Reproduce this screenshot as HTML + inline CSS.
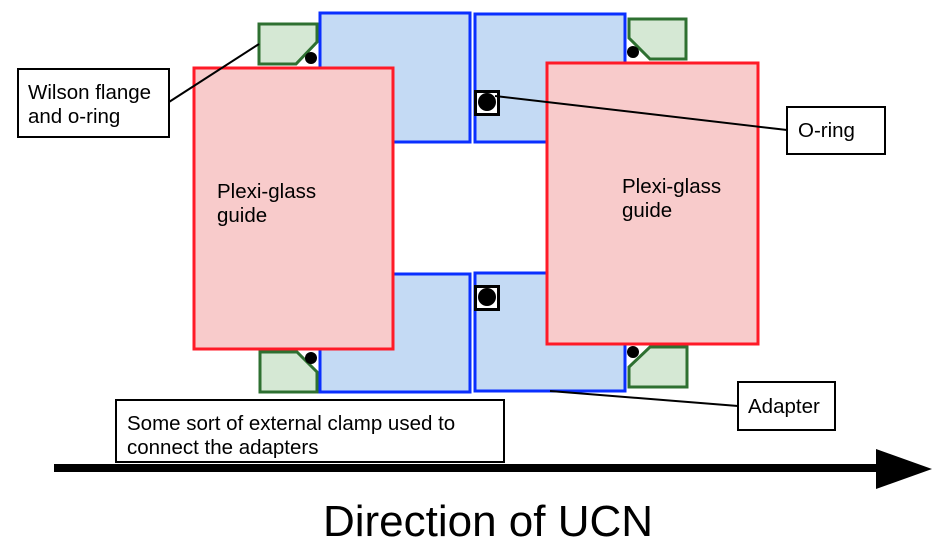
<!DOCTYPE html>
<html><head><meta charset="utf-8"><style>
html,body{margin:0;padding:0;background:#fff}
svg{display:block}
text{font-family:"Liberation Sans",sans-serif;fill:#000}
</style></head><body>
<svg width="946" height="557" viewBox="0 0 946 557" xmlns="http://www.w3.org/2000/svg">
<g fill="#c4daf4" stroke="#0a2fff" stroke-width="3">
<rect x="320" y="13" width="150" height="129"/>
<rect x="475" y="14" width="150" height="128"/>
<rect x="320" y="274" width="150" height="118"/>
<rect x="475" y="273" width="150" height="118"/>
</g>
<g fill="#d5e8d4" stroke="#2e7031" stroke-width="3">
<polygon points="259,24 317,24 317,42 296,64 259,64"/>
<polygon points="629,19 686,19 686,59 650,59 629,38"/>
<polygon points="260,352 297,352 317,372 317,392 260,392"/>
<polygon points="629,367 650,347 687,347 687,387 629,387"/>
</g>
<g fill="#000">
<circle cx="311" cy="58" r="6"/><circle cx="633" cy="52" r="6"/>
<circle cx="311" cy="358" r="6"/><circle cx="633" cy="352" r="6"/>
</g>
<rect x="475.5" y="91.5" width="23" height="23" fill="#fff" stroke="#000" stroke-width="3"/>
<circle cx="487" cy="102" r="9"/>
<rect x="475.5" y="286.5" width="23" height="23" fill="#fff" stroke="#000" stroke-width="3"/>
<circle cx="487" cy="297" r="9"/>
<g fill="#f8cbcb" stroke="#ff1a27" stroke-width="3">
<rect x="194" y="68" width="199" height="281"/>
<rect x="547" y="63" width="211" height="281"/>
</g>
<text x="217" y="198" font-size="20.5">Plexi-glass</text>
<text x="217" y="222" font-size="20.5">guide</text>
<text x="622" y="193" font-size="20.5">Plexi-glass</text>
<text x="622" y="217" font-size="20.5">guide</text>
<g stroke="#000" stroke-width="2">
<line x1="169" y1="102" x2="259" y2="44"/>
<line x1="495" y1="96" x2="787" y2="130"/>
<line x1="550" y1="391" x2="738" y2="406"/>
</g>
<g fill="#fff" stroke="#000" stroke-width="2">
<rect x="18" y="69" width="151" height="68"/>
<rect x="787" y="107" width="98" height="47"/>
<rect x="738" y="382" width="97" height="48"/>
<rect x="116" y="400" width="388" height="62"/>
</g>
<text x="28" y="99" font-size="20.5">Wilson flange</text>
<text x="28" y="123" font-size="20.5">and o-ring</text>
<text x="798" y="137" font-size="20.5">O-ring</text>
<text x="748" y="413" font-size="20.5">Adapter</text>
<text x="127" y="430" font-size="20.5">Some sort of external clamp used to</text>
<text x="127" y="454" font-size="20.5">connect the adapters</text>
<rect x="54" y="464" width="824" height="8" fill="#000"/>
<polygon points="876,449 932,469 876,489" fill="#000"/>
<text x="488" y="536" font-size="44" text-anchor="middle">Direction of UCN</text>
</svg>
</body></html>
